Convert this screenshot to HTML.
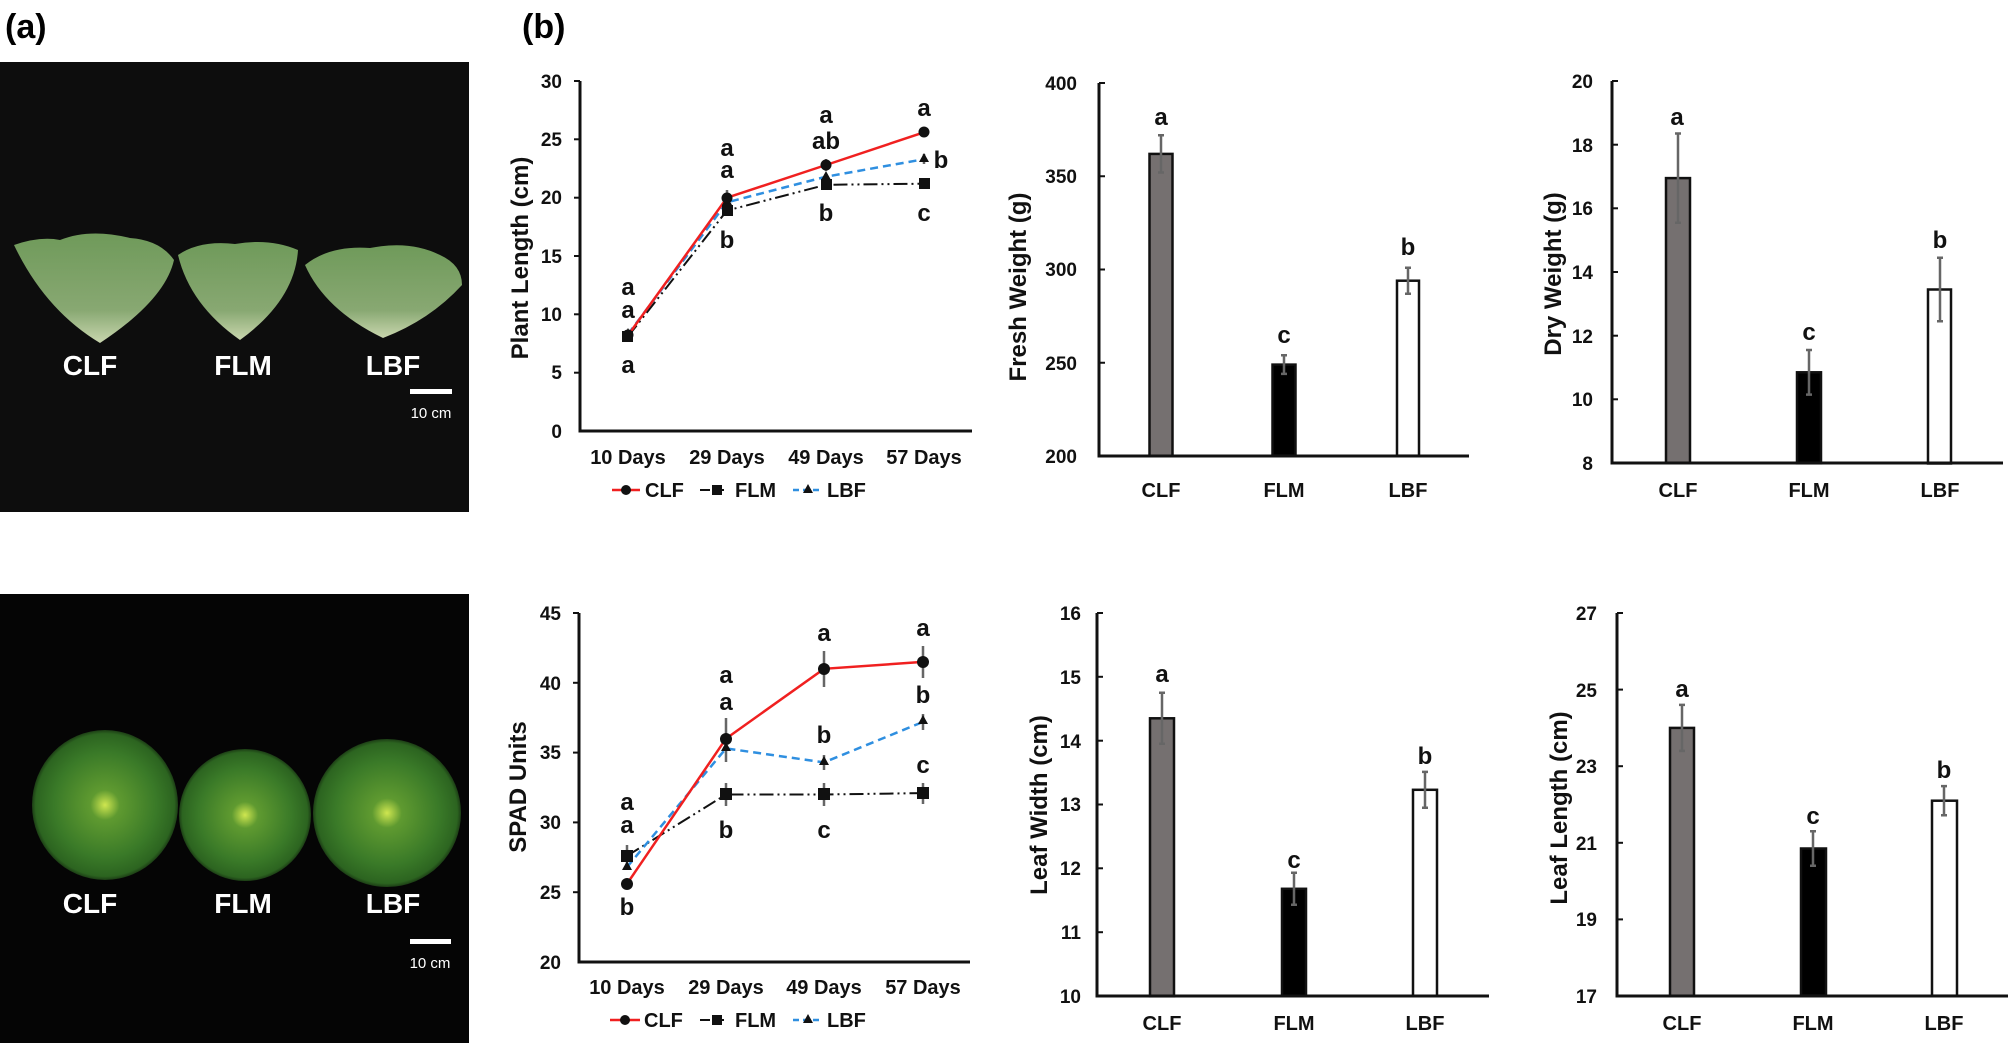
<!DOCTYPE html>
<html><head><meta charset="utf-8"><style>
html,body{margin:0;padding:0;background:#fff;}
svg{display:block;}
text{font-family:"Liberation Sans",Arial,sans-serif;}
.t{font-size:19px;font-weight:bold;fill:#111;}
.ti{font-size:24px;font-weight:bold;fill:#111;}
.lt{font-size:24px;font-weight:bold;fill:#111;}
.cat{font-size:20px;font-weight:bold;fill:#111;}
.ax{stroke:#111;stroke-width:3;fill:none;}
.eb{stroke:#666;stroke-width:2.5;fill:none;}
</style></head><body>
<svg width="2008" height="1043" viewBox="0 0 2008 1043" xmlns="http://www.w3.org/2000/svg">
<defs>
<linearGradient id="cab" x1="0" y1="0" x2="0" y2="1">
<stop offset="0" stop-color="#6f9a5a"/><stop offset="0.7" stop-color="#88a872"/><stop offset="1" stop-color="#c9d6ae"/>
</linearGradient>
<radialGradient id="rom" cx="0.5" cy="0.5" r="0.5">
<stop offset="0" stop-color="#cfe650"/><stop offset="0.2" stop-color="#5f9a30"/><stop offset="0.7" stop-color="#3a7a28"/><stop offset="0.95" stop-color="#2c6420"/><stop offset="1" stop-color="#2c6420" stop-opacity="0.6"/>
</radialGradient>
</defs>
<text x="5" y="38" style="font-size:34px;font-weight:bold">(a)</text>
<text x="522" y="38" style="font-size:34px;font-weight:bold">(b)</text>

<rect x="0" y="62" width="469" height="450" fill="#0d0d0d"/>
<path d="M14 245 Q40 236 60 240 Q90 228 130 238 Q160 240 174 260 Q165 300 100 343 Q45 310 14 245Z" fill="url(#cab)"/>
<path d="M178 255 Q200 240 235 244 Q270 238 298 250 Q295 300 240 340 Q190 305 178 255Z" fill="url(#cab)"/>
<path d="M305 265 Q330 245 370 248 Q410 240 440 255 Q462 265 462 285 Q430 320 383 338 Q325 310 305 265Z" fill="url(#cab)"/>
<text x="90" y="375" text-anchor="middle" style="font-size:28px;font-weight:bold;fill:#fff">CLF</text>
<text x="243" y="375" text-anchor="middle" style="font-size:28px;font-weight:bold;fill:#fff">FLM</text>
<text x="393" y="375" text-anchor="middle" style="font-size:28px;font-weight:bold;fill:#fff">LBF</text>
<rect x="410" y="389" width="42" height="5" fill="#fff"/>
<text x="431" y="418" text-anchor="middle" style="font-size:15px;fill:#fff">10 cm</text>

<rect x="0" y="594" width="469" height="449" fill="#050505"/>
<ellipse cx="105" cy="805" rx="73" ry="75" fill="url(#rom)"/>
<ellipse cx="245" cy="815" rx="66" ry="66" fill="url(#rom)"/>
<ellipse cx="387" cy="813" rx="74" ry="74" fill="url(#rom)"/>
<text x="90" y="913" text-anchor="middle" style="font-size:28px;font-weight:bold;fill:#fff">CLF</text>
<text x="243" y="913" text-anchor="middle" style="font-size:28px;font-weight:bold;fill:#fff">FLM</text>
<text x="393" y="913" text-anchor="middle" style="font-size:28px;font-weight:bold;fill:#fff">LBF</text>
<rect x="410" y="939" width="41" height="5" fill="#fff"/>
<text x="430" y="968" text-anchor="middle" style="font-size:15px;fill:#fff">10 cm</text>

<g>
<path class="ax" d="M580 81 V431 H972"/>
<g stroke="#111" stroke-width="2">
<line x1="574" y1="81" x2="580" y2="81"/><line x1="574" y1="139.3" x2="580" y2="139.3"/><line x1="574" y1="197.7" x2="580" y2="197.7"/><line x1="574" y1="256" x2="580" y2="256"/><line x1="574" y1="314.3" x2="580" y2="314.3"/><line x1="574" y1="372.7" x2="580" y2="372.7"/>
</g>
<g class="t" text-anchor="end">
<text x="562" y="88">30</text><text x="562" y="146">25</text><text x="562" y="204">20</text><text x="562" y="263">15</text><text x="562" y="321">10</text><text x="562" y="379">5</text><text x="562" y="438">0</text>
</g>
<text class="ti" transform="translate(528,258) rotate(-90)" text-anchor="middle">Plant Length (cm)</text>
<g class="cat" text-anchor="middle">
<text x="628" y="464">10 Days</text><text x="727" y="464">29 Days</text><text x="826" y="464">49 Days</text><text x="924" y="464">57 Days</text>
</g>
<g class="eb">
<path d="M727 190 V206 M826 159 V171 M924 127 V137 M924 178 V189 M924 154 V164 M628 330 V340"/>
</g>
<polyline points="628,336.5 727,210.5 826,184.8 924,183.7" fill="none" stroke="#111" stroke-width="2" stroke-dasharray="14,4,2,4,2,4"/>
<polyline points="628,334.2 727,202.3 826,176.7 924,159.2" fill="none" stroke="#2f8fe0" stroke-width="2.5" stroke-dasharray="8,5"/>
<polyline points="628,335.3 727,197.7 826,165 924,132.3" fill="none" stroke="#f02020" stroke-width="2.5"/>
<g fill="#111">
<rect x="622" y="331" width="11" height="11"/><rect x="722" y="205" width="11" height="11"/><rect x="821" y="179" width="11" height="11"/><rect x="919" y="178" width="11" height="11"/>
<path d="M628 328 l5 9 h-10z M727 196 l5 9 h-10z M826 171 l5 9 h-10z M924 153 l5 9 h-10z"/>
<circle cx="628" cy="335" r="5.5"/><circle cx="727" cy="198" r="5.5"/><circle cx="826" cy="165" r="5.5"/><circle cx="924" cy="132" r="5.5"/>
</g>
<g class="lt" text-anchor="middle">
<text x="628" y="295">a</text><text x="628" y="318">a</text><text x="628" y="373">a</text>
<text x="727" y="156">a</text><text x="727" y="178">a</text><text x="727" y="248">b</text>
<text x="826" y="123">a</text><text x="826" y="149">ab</text><text x="826" y="221">b</text>
<text x="924" y="116">a</text><text x="941" y="168">b</text><text x="924" y="221">c</text>
</g>
<g>
<line x1="612" y1="490" x2="640" y2="490" stroke="#f02020" stroke-width="2.5"/><circle cx="626" cy="490" r="5" fill="#111"/>
<text x="645" y="497" class="cat">CLF</text>
<line x1="700" y1="490" x2="724" y2="490" stroke="#111" stroke-width="2" stroke-dasharray="10,3,2,3"/><rect x="712" y="485" width="10" height="10" fill="#111"/>
<text x="735" y="497" class="cat">FLM</text>
<line x1="793" y1="490" x2="822" y2="490" stroke="#2f8fe0" stroke-width="2.5" stroke-dasharray="6,4"/><path d="M808 484 l5 9 h-10z" fill="#111"/>
<text x="827" y="497" class="cat">LBF</text>
</g>
</g>

<g>
<path class="ax" d="M579 613 V962 H970"/>
<g stroke="#111" stroke-width="2">
<line x1="573" y1="613" x2="579" y2="613"/><line x1="573" y1="682.8" x2="579" y2="682.8"/><line x1="573" y1="752.6" x2="579" y2="752.6"/><line x1="573" y1="822.4" x2="579" y2="822.4"/><line x1="573" y1="892.2" x2="579" y2="892.2"/>
</g>
<g class="t" text-anchor="end">
<text x="561" y="620">45</text><text x="561" y="690">40</text><text x="561" y="759">35</text><text x="561" y="829">30</text><text x="561" y="899">25</text><text x="561" y="969">20</text>
</g>
<text class="ti" transform="translate(526,787) rotate(-90)" text-anchor="middle">SPAD Units</text>
<g class="cat" text-anchor="middle">
<text x="627" y="994">10 Days</text><text x="726" y="994">29 Days</text><text x="824" y="994">49 Days</text><text x="923" y="994">57 Days</text>
</g>
<g class="eb">
<path d="M627 880 V888 M726 718 V760 M824 651 V687 M923 646 V678 M627 845 V867 M726 783 V806 M824 783 V806 M923 783 V804 M726 734 V762 M824 755 V770 M923 714 V730"/>
</g>
<polyline points="627,855.9 726,794.5 824,794.5 923,793.1" fill="none" stroke="#111" stroke-width="2" stroke-dasharray="14,4,2,4,2,4"/>
<polyline points="627,867.1 726,748.4 824,762.4 923,721.9" fill="none" stroke="#2f8fe0" stroke-width="2.5" stroke-dasharray="8,5"/>
<polyline points="627,883.8 726,738.6 824,668.8 923,661.9" fill="none" stroke="#f02020" stroke-width="2.5"/>
<g fill="#111">
<rect x="621" y="850" width="12" height="12"/><rect x="720" y="788" width="12" height="12"/><rect x="818" y="788" width="12" height="12"/><rect x="917" y="787" width="12" height="12"/>
<path d="M627 861 l5 9 h-10z M726 742 l5 9 h-10z M824 756 l5 9 h-10z M923 715 l5 9 h-10z"/>
<circle cx="627" cy="884" r="6"/><circle cx="726" cy="739" r="6"/><circle cx="824" cy="669" r="6"/><circle cx="923" cy="662" r="6"/>
</g>
<g class="lt" text-anchor="middle">
<text x="627" y="810">a</text><text x="627" y="833">a</text><text x="627" y="915">b</text>
<text x="726" y="683">a</text><text x="726" y="710">a</text><text x="726" y="838">b</text>
<text x="824" y="641">a</text><text x="824" y="743">b</text><text x="824" y="838">c</text>
<text x="923" y="636">a</text><text x="923" y="703">b</text><text x="923" y="773">c</text>
</g>
<g>
<line x1="610" y1="1020" x2="640" y2="1020" stroke="#f02020" stroke-width="2.5"/><circle cx="625" cy="1020" r="5" fill="#111"/>
<text x="644" y="1027" class="cat">CLF</text>
<line x1="700" y1="1020" x2="724" y2="1020" stroke="#111" stroke-width="2" stroke-dasharray="10,3,2,3"/><rect x="712" y="1015" width="10" height="10" fill="#111"/>
<text x="735" y="1027" class="cat">FLM</text>
<line x1="793" y1="1020" x2="823" y2="1020" stroke="#2f8fe0" stroke-width="2.5" stroke-dasharray="6,4"/><path d="M808 1014 l5 9 h-10z" fill="#111"/>
<text x="827" y="1027" class="cat">LBF</text>
</g>
</g>

<g>
<rect x="1149.5" y="153.9" width="23" height="302" fill="#757070" stroke="#111" stroke-width="2.5"/>
<rect x="1272.5" y="364.6" width="23" height="91" fill="#000" stroke="#111" stroke-width="2.5"/>
<rect x="1397" y="280.7" width="22" height="175" fill="#fff" stroke="#111" stroke-width="2.5"/>
<path class="eb" d="M1161 135.3 V172.5 M1158 135.3 h6 M1158 172.5 h6 M1284 355.3 V373.9 M1281 355.3 h6 M1281 373.9 h6 M1408 267.7 V293.7 M1405 267.7 h6 M1405 293.7 h6"/>
<path class="ax" d="M1099 83 V456 H1469"/>
<g stroke="#111" stroke-width="2">
<line x1="1099" y1="83" x2="1105" y2="83"/><line x1="1099" y1="176.25" x2="1105" y2="176.25"/><line x1="1099" y1="269.5" x2="1105" y2="269.5"/><line x1="1099" y1="362.75" x2="1105" y2="362.75"/>
</g>
<g class="t" text-anchor="end">
<text x="1077" y="90">400</text><text x="1077" y="183">350</text><text x="1077" y="276">300</text><text x="1077" y="370">250</text><text x="1077" y="463">200</text>
</g>
<text class="ti" transform="translate(1026,287) rotate(-90)" text-anchor="middle">Fresh Weight (g)</text>
<g class="lt" text-anchor="middle"><text x="1161" y="125">a</text><text x="1284" y="343">c</text><text x="1408" y="255">b</text></g>
<g class="cat" text-anchor="middle"><text x="1161" y="497">CLF</text><text x="1284" y="497">FLM</text><text x="1408" y="497">LBF</text></g>
</g>

<g>
<rect x="1666" y="178.1" width="24" height="285" fill="#757070" stroke="#111" stroke-width="2.5"/>
<rect x="1797" y="372.3" width="24" height="91" fill="#000" stroke="#111" stroke-width="2.5"/>
<rect x="1928" y="289.5" width="23" height="174" fill="#fff" stroke="#111" stroke-width="2.5"/>
<path class="eb" d="M1678 133.5 V222.7 M1675 133.5 h6 M1675 222.7 h6 M1809 350 V394.6 M1806 350 h6 M1806 394.6 h6 M1940 257.7 V321.3 M1937 257.7 h6 M1937 321.3 h6"/>
<path class="ax" d="M1612 81 V463 H2003"/>
<g stroke="#111" stroke-width="2">
<line x1="1612" y1="81" x2="1618" y2="81"/><line x1="1612" y1="144.7" x2="1618" y2="144.7"/><line x1="1612" y1="208.3" x2="1618" y2="208.3"/><line x1="1612" y1="272" x2="1618" y2="272"/><line x1="1612" y1="335.7" x2="1618" y2="335.7"/><line x1="1612" y1="399.3" x2="1618" y2="399.3"/>
</g>
<g class="t" text-anchor="end">
<text x="1593" y="88">20</text><text x="1593" y="152">18</text><text x="1593" y="215">16</text><text x="1593" y="279">14</text><text x="1593" y="343">12</text><text x="1593" y="406">10</text><text x="1593" y="470">8</text>
</g>
<text class="ti" transform="translate(1561,274) rotate(-90)" text-anchor="middle">Dry Weight (g)</text>
<g class="lt" text-anchor="middle"><text x="1677" y="125">a</text><text x="1809" y="340">c</text><text x="1940" y="248">b</text></g>
<g class="cat" text-anchor="middle"><text x="1678" y="497">CLF</text><text x="1809" y="497">FLM</text><text x="1940" y="497">LBF</text></g>
</g>

<g>
<rect x="1150" y="718.3" width="24" height="278" fill="#757070" stroke="#111" stroke-width="2.5"/>
<rect x="1282" y="888.8" width="24" height="107" fill="#000" stroke="#111" stroke-width="2.5"/>
<rect x="1413" y="789.8" width="24" height="206" fill="#fff" stroke="#111" stroke-width="2.5"/>
<path class="eb" d="M1162 692.8 V743.8 M1159 692.8 h6 M1159 743.8 h6 M1294 872.8 V904.8 M1291 872.8 h6 M1291 904.8 h6 M1425 771.9 V807.7 M1422 771.9 h6 M1422 807.7 h6"/>
<path class="ax" d="M1097 613 V996 H1489"/>
<g stroke="#111" stroke-width="2">
<line x1="1097" y1="613" x2="1103" y2="613"/><line x1="1097" y1="676.8" x2="1103" y2="676.8"/><line x1="1097" y1="740.7" x2="1103" y2="740.7"/><line x1="1097" y1="804.5" x2="1103" y2="804.5"/><line x1="1097" y1="868.3" x2="1103" y2="868.3"/><line x1="1097" y1="932.2" x2="1103" y2="932.2"/>
</g>
<g class="t" text-anchor="end">
<text x="1081" y="620">16</text><text x="1081" y="684">15</text><text x="1081" y="748">14</text><text x="1081" y="811">13</text><text x="1081" y="875">12</text><text x="1081" y="939">11</text><text x="1081" y="1003">10</text>
</g>
<text class="ti" transform="translate(1047,805) rotate(-90)" text-anchor="middle">Leaf Width (cm)</text>
<g class="lt" text-anchor="middle"><text x="1162" y="682">a</text><text x="1294" y="868">c</text><text x="1425" y="764">b</text></g>
<g class="cat" text-anchor="middle"><text x="1162" y="1030">CLF</text><text x="1294" y="1030">FLM</text><text x="1425" y="1030">LBF</text></g>
</g>

<g>
<rect x="1670" y="727.9" width="24" height="268" fill="#757070" stroke="#111" stroke-width="2.5"/>
<rect x="1801" y="848.5" width="25" height="147" fill="#000" stroke="#111" stroke-width="2.5"/>
<rect x="1932" y="800.7" width="25" height="195" fill="#fff" stroke="#111" stroke-width="2.5"/>
<path class="eb" d="M1682 704.9 V750.9 M1679 704.9 h6 M1679 750.9 h6 M1813 831.3 V865.7 M1810 831.3 h6 M1810 865.7 h6 M1944 786.1 V815.3 M1941 786.1 h6 M1941 815.3 h6"/>
<path class="ax" d="M1617 613 V996 H2008"/>
<g stroke="#111" stroke-width="2">
<line x1="1617" y1="613" x2="1623" y2="613"/><line x1="1617" y1="689.6" x2="1623" y2="689.6"/><line x1="1617" y1="766.2" x2="1623" y2="766.2"/><line x1="1617" y1="842.8" x2="1623" y2="842.8"/><line x1="1617" y1="919.4" x2="1623" y2="919.4"/>
</g>
<g class="t" text-anchor="end">
<text x="1597" y="620">27</text><text x="1597" y="697">25</text><text x="1597" y="773">23</text><text x="1597" y="850">21</text><text x="1597" y="926">19</text><text x="1597" y="1003">17</text>
</g>
<text class="ti" transform="translate(1567,808) rotate(-90)" text-anchor="middle">Leaf Length (cm)</text>
<g class="lt" text-anchor="middle"><text x="1682" y="697">a</text><text x="1813" y="824">c</text><text x="1944" y="778">b</text></g>
<g class="cat" text-anchor="middle"><text x="1682" y="1030">CLF</text><text x="1813" y="1030">FLM</text><text x="1944" y="1030">LBF</text></g>
</g>
</svg>
</body></html>
